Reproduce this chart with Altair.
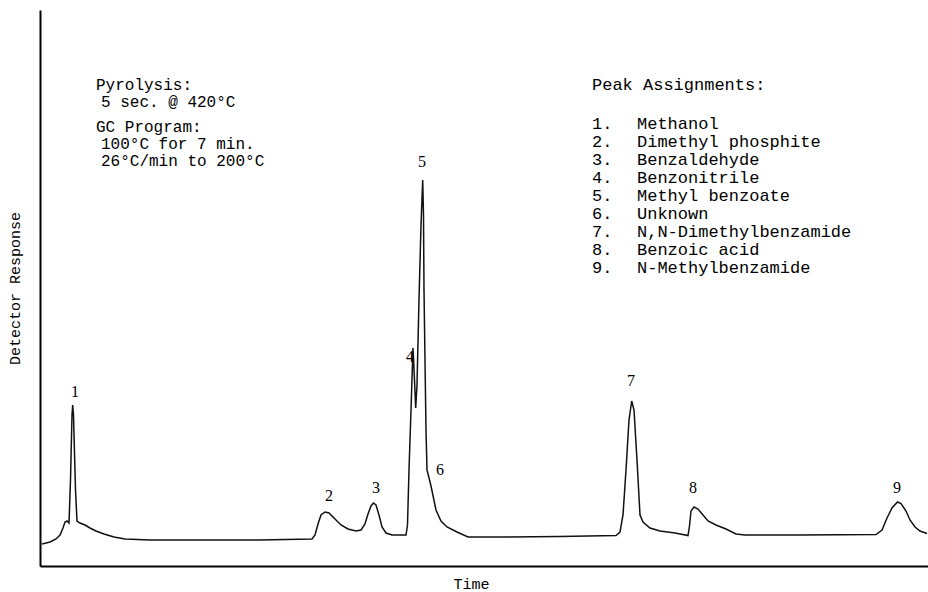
import altair as alt
import pandas as pd

# ---- chromatogram trace (time in arbitrary units, response in arbitrary units) ----
trace_time = [2, 10, 16, 20, 23, 25, 27, 29, 30.5, 32, 32.7, 33.5, 35.5, 37, 40, 45, 50, 56, 64, 74,
              85, 110, 160, 220, 272, 275, 278, 281, 285, 289, 295, 301, 308, 316, 321, 325, 328,
              331, 333.5, 336, 339, 342, 346, 352, 360, 366, 367.5, 369, 371, 373, 374.5, 375.7,
              377, 379, 381, 382.7, 383.5, 384, 385, 386, 387, 391, 396, 401, 407, 417, 428, 460,
              520, 576, 580, 583, 586, 589, 591.7, 594, 597, 600, 603, 610, 620, 635, 648, 649.5,
              651, 654, 658, 663, 668, 676, 686, 696, 705, 760, 836, 842, 847, 852, 857.5, 861,
              866, 870, 875, 880, 887]
trace_resp = [22, 24, 27, 31, 38, 44, 45, 43, 86, 151, 161, 151, 76, 45, 43, 41, 38, 35, 32, 29,
              27, 26, 26, 26, 27, 31, 42, 51, 54, 53, 47, 41, 37, 35, 36, 42, 52, 60, 63, 61, 51,
              39, 33, 31, 31, 31, 41, 96, 156, 218, 186, 158, 181, 266, 341, 386, 351, 276, 206,
              136, 96, 80, 56, 45, 39, 34, 29, 29, 29.5, 30.5, 34, 51, 96, 146, 165, 156, 106, 51,
              44, 38, 35, 33, 30.5, 40, 55, 59, 57, 51, 45, 41, 37, 32, 31, 31, 31.5, 36, 48, 58,
              64, 62.5, 55, 46, 39, 35, 32.5]

# ---- peak labels ----
peak_ids = ["1", "2", "3", "4", "5", "6", "7", "8", "9"]
peak_label_time = [35, 289, 336, 370, 382, 400, 591, 653, 857]
peak_label_resp = [174, 70, 78, 209, 404, 96, 185, 78, 78]

# ---- annotation text ----
pyro_head = "Pyrolysis:"
pyro_line = "5 sec. @ 420°C"
gc_head = "GC Program:"
gc_lines = ["100°C for 7 min.", "26°C/min to 200°C"]
assign_title = "Peak Assignments:"
assign_nums = ["1.", "2.", "3.", "4.", "5.", "6.", "7.", "8.", "9."]
assign_names = ["Methanol", "Dimethyl phosphite", "Benzaldehyde", "Benzonitrile",
                "Methyl benzoate", "Unknown", "N,N-Dimethylbenzamide", "Benzoic acid",
                "N-Methylbenzamide"]

MONO = "Liberation Mono"
SERIF = "Liberation Serif"

trace = pd.DataFrame({"t": trace_time, "r": trace_resp, "i": range(len(trace_time))})
peaks = pd.DataFrame({"t": peak_label_time, "r": peak_label_resp, "lab": peak_ids})
one_row = pd.DataFrame({"k": [0]})

xscale = alt.Scale(domain=[0, 888], nice=False, zero=False)
yscale = alt.Scale(domain=[0, 556], nice=False, zero=False)

x_axis = alt.Axis(title="Time", labels=False, ticks=False, grid=False,
                  domainColor="black", domainWidth=2,
                  titleFont=MONO, titleFontSize=15, titleFontWeight="normal",
                  titleColor="black", titleX=431, titleY=10, titleBaseline="top")
y_axis = alt.Axis(title="Detector Response", labels=False, ticks=False, grid=False,
                  domainColor="black", domainWidth=2,
                  titleFont=MONO, titleFontSize=15, titleFontWeight="normal",
                  titleColor="black", titleX=-18, titleY=278, titleAngle=270,
                  titleBaseline="bottom")

line = alt.Chart(trace).mark_line(color="#111111", strokeWidth=1.5).encode(
    x=alt.X("t:Q", scale=xscale, axis=x_axis),
    y=alt.Y("r:Q", scale=yscale, axis=y_axis),
    order=alt.Order("i:Q"),
)

labels = alt.Chart(peaks).mark_text(font=SERIF, fontSize=16, color="black",
                                    baseline="middle", align="center").encode(
    x=alt.X("t:Q", scale=xscale),
    y=alt.Y("r:Q", scale=yscale),
    text="lab:N",
)

def note(txt, px, py, size=17, **kw):
    return alt.Chart(one_row).mark_text(font=MONO, fontSize=size, color="black",
                                        align="left", baseline="alphabetic", **kw).encode(
        x=alt.value(px), y=alt.value(py), text=alt.value(txt))

notes = [
    note(pyro_head, 56, 80, size=16),
    note(pyro_line, 61, 97, size=16),
    note(gc_head, 56, 122, size=16),
    note(gc_lines, 61, 139, size=16, lineHeight=17),
    note(assign_title, 552, 80),
    note(assign_nums, 552, 119, lineHeight=18),
    note(assign_names, 597, 119, lineHeight=18),
]

chart = alt.layer(line, labels, *notes).properties(
    width=888, height=556,
    padding={"left": 40, "top": 10, "right": 0, "bottom": 26},
    autosize=alt.AutoSizeParams(type="none"),
    background="white",
).configure_view(stroke=None)

chart.save("out.html", embed_options={"renderer": "svg", "actions": False})
